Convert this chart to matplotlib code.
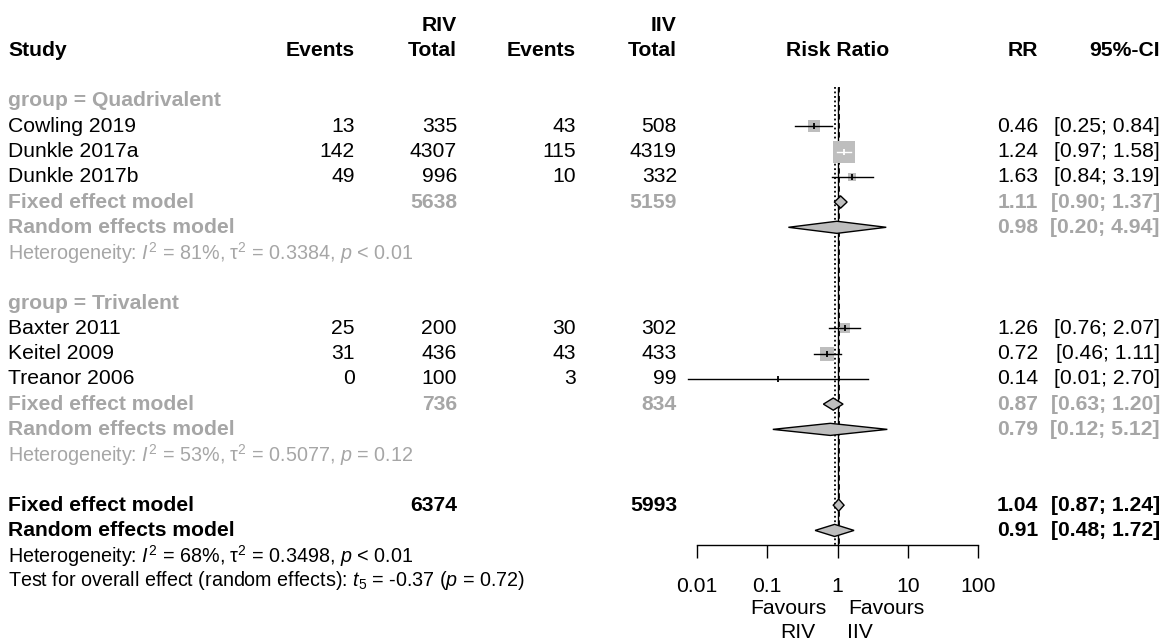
import matplotlib
matplotlib.use("Agg")
import matplotlib.pyplot as plt
import numpy as np

plt.rcParams["font.family"] = ["Liberation Sans", "DejaVu Sans"]
plt.rcParams["mathtext.fontset"] = "custom"
plt.rcParams["mathtext.rm"] = "Liberation Sans"
plt.rcParams["mathtext.it"] = "Liberation Sans:italic"
plt.rcParams["mathtext.bf"] = "Liberation Sans:bold"

# ---- study data ----
studies = ["Cowling 2019", "Dunkle 2017a", "Dunkle 2017b",
           "Baxter 2011", "Keitel 2009", "Treanor 2006"]
study_group = [0, 0, 0, 1, 1, 1]
riv_events = [13, 142, 49, 25, 31, 0]
riv_total = [335, 4307, 996, 200, 436, 100]
iiv_events = [43, 115, 10, 30, 43, 3]
iiv_total = [508, 4319, 332, 302, 433, 99]
rr = [0.46, 1.24, 1.63, 1.26, 0.72, 0.14]
rr_lo = [0.25, 0.97, 0.84, 0.76, 0.46, 0.0075]
rr_hi = [0.84, 1.58, 3.19, 2.07, 1.11, 2.70]
weight_fixed = [15.0, 47.0, 8.0, 12.0, 17.6, 0.4]

# ---- subgroup summaries ----
groups = ["Quadrivalent", "Trivalent"]
grp_riv_total = [5638, 736]
grp_iiv_total = [5159, 834]
grp_fixed = [1.11, 0.87]
grp_fixed_lo = [0.90, 0.63]
grp_fixed_hi = [1.37, 1.20]
grp_random = [0.98, 0.79]
grp_random_lo = [0.20, 0.12]
grp_random_hi = [4.94, 5.12]
grp_i2 = [81, 53]
grp_tau2 = ["0.3384", "0.5077"]
grp_p = ["< 0.01", "= 0.12"]

# ---- overall ----
all_riv_total = 6374
all_iiv_total = 5993
all_fixed, all_fixed_lo, all_fixed_hi = 1.04, 0.87, 1.24
all_random, all_random_lo, all_random_hi = 0.91, 0.48, 1.72
all_i2, all_tau2, all_p = 68, "0.3498", "< 0.01"
test_t, test_df, test_p = "-0.37", 5, "0.72"

x_ticks = [0.01, 0.1, 1, 10, 100]
x_ticklabels = ["0.01", "0.1", "1", "10", "100"]

GRAY = "#a6a6a6"
BOXCOL = "#bebebe"
FS = 15.2
FS_HET = 14.2

W, H = 1163, 644
ROW0, ROWH = 101, 25.26          # pixel y of row 0 and row height
AXIS_Y = 545                      # pixel y of the x axis line
X0, X1 = 697, 978                 # pixel x of 0.01 and 100


def rowof(py):
    return (py - ROW0) / ROWH


fig = plt.figure(figsize=(W / 100, H / 100), dpi=100)

# text layer: x in pixels, y in rows
tax = fig.add_axes([0, 0, 1, 1])
tax.set_xlim(0, W)
tax.set_ylim(rowof(H), rowof(0))
tax.axis("off")

# forest layer: log x, y in rows
fax = fig.add_axes([X0 / W, (H - AXIS_Y) / H, (X1 - X0) / W, AXIS_Y / H])
fax.set_xscale("log")
fax.set_xlim(0.01, 100)
fax.set_ylim(rowof(AXIS_Y), rowof(0))
fax.patch.set_alpha(0)
for s in ["top", "left", "right"]:
    fax.spines[s].set_visible(False)
fax.spines["bottom"].set_linewidth(1)
fax.set_yticks([])
fax.set_xticks(x_ticks)
fax.set_xticklabels(x_ticklabels, fontsize=FS)
fax.xaxis.set_minor_locator(matplotlib.ticker.NullLocator())
fax.tick_params(axis="x", direction="out", length=9.4, width=1, pad=14)

COL_EV1, COL_TOT1, COL_EV2, COL_TOT2 = 355, 457, 576, 677
COL_RR, COL_CI = 1038, 1160


def txt(x, r, s, ha="left", bold=False, color="black", size=FS):
    tax.text(x, r, s, ha=ha, va="center", fontsize=size,
             fontweight="bold" if bold else "normal", color=color)


def ci_text(est, lo, hi):
    return f"{est:.2f}", f"[{lo:.2f}; {hi:.2f}]"


def diamond(r, est, lo, hi, h=0.24):
    fax.fill([lo, est, hi, est], [r, r - h, r, r + h], facecolor=BOXCOL,
             edgecolor="black", lw=1, zorder=5, clip_on=False)


# header
txt(COL_TOT1, -3, "RIV", ha="right", bold=True)
txt(COL_TOT2, -3, "IIV", ha="right", bold=True)
for x, s, ha in [(8, "Study", "left"), (COL_EV1, "Events", "right"),
                 (COL_TOT1, "Total", "right"), (COL_EV2, "Events", "right"),
                 (COL_TOT2, "Total", "right"), (COL_RR, "RR", "right"),
                 (COL_CI, "95%-CI", "right")]:
    txt(x, -2, s, ha=ha, bold=True)
fax.text(1, -2, "Risk Ratio", ha="center", va="center", fontsize=FS,
         fontweight="bold")

# reference lines
top = rowof(87)
bottom = rowof(AXIS_Y)
fax.vlines(1, top, bottom, color="black", lw=1, zorder=2)
fax.vlines(all_fixed, top, bottom, color="black", lw=1.3, linestyles=(0, (3, 2)), zorder=2)
fax.vlines(all_random, top, bottom, color="black", lw=1.3, linestyles=(0, (1, 1.5)), zorder=2)

r = 0
for g, gname in enumerate(groups):
    txt(8, r, f"group = {gname}", bold=True, color=GRAY)
    r += 1
    for i in [k for k in range(len(studies)) if study_group[k] == g]:
        txt(8, r, studies[i])
        txt(COL_EV1, r, str(riv_events[i]), ha="right")
        txt(COL_TOT1, r, str(riv_total[i]), ha="right")
        txt(COL_EV2, r, str(iiv_events[i]), ha="right")
        txt(COL_TOT2, r, str(iiv_total[i]), ha="right")
        a, b = ci_text(rr[i], rr_lo[i], rr_hi[i])
        txt(COL_RR, r, a, ha="right")
        txt(COL_CI, r, b, ha="right")
        side_px = 21.7 * np.sqrt(weight_fixed[i] / 47.0)
        fax.scatter([rr[i]], [r], marker="s", s=(side_px * 0.72) ** 2,
                    color=BOXCOL, linewidths=0, zorder=3, clip_on=False)
        half_dec = side_px / 2 / ((X1 - X0) / 4)
        inside = (np.log10(rr_lo[i]) >= np.log10(rr[i]) - half_dec and
                  np.log10(rr_hi[i]) <= np.log10(rr[i]) + half_dec)
        lc = "white" if inside else "black"
        fax.plot([rr_lo[i], rr_hi[i]], [r, r], color=lc, lw=1, zorder=4, clip_on=False)
        fax.plot([rr[i]], [r], marker="|", ms=5, mew=1.3, color=lc, zorder=4, clip_on=False)
        r += 1
    txt(8, r, "Fixed effect model", bold=True, color=GRAY)
    txt(COL_TOT1, r, str(grp_riv_total[g]), ha="right", bold=True, color=GRAY)
    txt(COL_TOT2, r, str(grp_iiv_total[g]), ha="right", bold=True, color=GRAY)
    a, b = ci_text(grp_fixed[g], grp_fixed_lo[g], grp_fixed_hi[g])
    txt(COL_RR, r, a, ha="right", bold=True, color=GRAY)
    txt(COL_CI, r, b, ha="right", bold=True, color=GRAY)
    diamond(r, grp_fixed[g], grp_fixed_lo[g], grp_fixed_hi[g])
    r += 1
    txt(8, r, "Random effects model", bold=True, color=GRAY)
    a, b = ci_text(grp_random[g], grp_random_lo[g], grp_random_hi[g])
    txt(COL_RR, r, a, ha="right", bold=True, color=GRAY)
    txt(COL_CI, r, b, ha="right", bold=True, color=GRAY)
    diamond(r, grp_random[g], grp_random_lo[g], grp_random_hi[g])
    r += 1
    txt(8, r, r"Heterogeneity: $I^2$ = " + f"{grp_i2[g]}%, " + r"$\mathrm{\tau}^2$ = "
        + f"{grp_tau2[g]}, " + r"$p$ " + grp_p[g], color=GRAY, size=FS_HET)
    r += 2

# overall
txt(8, r, "Fixed effect model", bold=True)
txt(COL_TOT1, r, str(all_riv_total), ha="right", bold=True)
txt(COL_TOT2, r, str(all_iiv_total), ha="right", bold=True)
a, b = ci_text(all_fixed, all_fixed_lo, all_fixed_hi)
txt(COL_RR, r, a, ha="right", bold=True)
txt(COL_CI, r, b, ha="right", bold=True)
diamond(r, all_fixed, all_fixed_lo, all_fixed_hi)
r += 1
txt(8, r, "Random effects model", bold=True)
a, b = ci_text(all_random, all_random_lo, all_random_hi)
txt(COL_RR, r, a, ha="right", bold=True)
txt(COL_CI, r, b, ha="right", bold=True)
diamond(r, all_random, all_random_lo, all_random_hi)
r += 1
txt(8, r, r"Heterogeneity: $I^2$ = " + f"{all_i2}%, " + r"$\mathrm{\tau}^2$ = "
    + f"{all_tau2}, " + r"$p$ " + all_p, size=FS_HET)
r += 1
txt(8, r, "Test for overall effect (random effects): " + f"$t_{test_df}$ = {test_t} ("
    + r"$p$" + f" = {test_p})", size=FS_HET)

# favours labels
x1 = 837
tax.text(x1 - 10, rowof(608), "Favours", ha="right", va="center", fontsize=FS)
tax.text(x1 - 21, rowof(632), "RIV", ha="right", va="center", fontsize=FS)
tax.text(x1 + 11, rowof(608), "Favours", ha="left", va="center", fontsize=FS)
tax.text(x1 + 10, rowof(632), "IIV", ha="left", va="center", fontsize=FS)

fig.savefig("out.png", dpi=100)
